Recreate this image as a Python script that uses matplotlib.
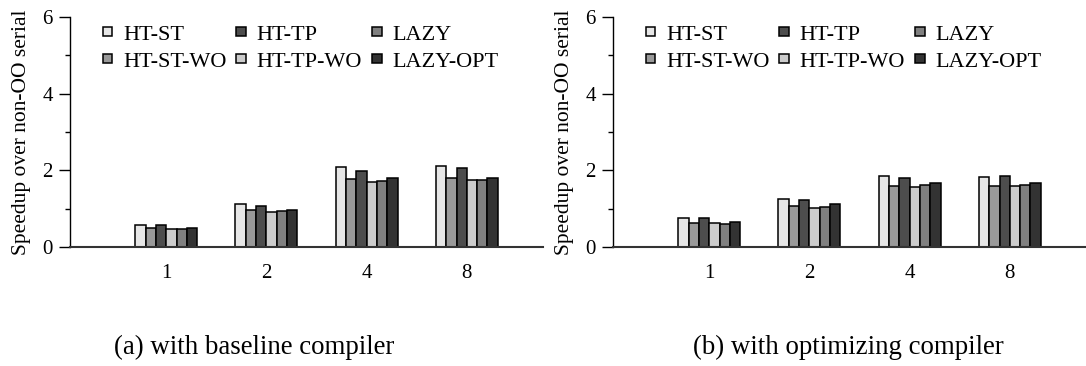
import numpy as np
import matplotlib
matplotlib.use('Agg')
import matplotlib.pyplot as plt
from matplotlib.ticker import MultipleLocator

plt.rcParams['font.family'] = ['Liberation Serif', 'DejaVu Serif']

threads = ['1', '2', '4', '8']
series = ['HT-ST', 'HT-ST-WO', 'HT-TP', 'HT-TP-WO', 'LAZY', 'LAZY-OPT']
colors = ['#e6e6e6', '#999999', '#4d4d4d', '#cccccc', '#808080', '#333333']

# speedup with baseline compiler, one list per series (threads 1,2,4,8)
base_ht_st = [0.58, 1.13, 2.09, 2.10]
base_ht_st_wo = [0.50, 0.96, 1.78, 1.80]
base_ht_tp = [0.57, 1.07, 1.98, 2.05]
base_ht_tp_wo = [0.47, 0.91, 1.70, 1.75]
base_lazy = [0.47, 0.93, 1.73, 1.75]
base_lazy_opt = [0.50, 0.96, 1.81, 1.81]

# speedup with optimizing compiler
opt_ht_st = [0.76, 1.26, 1.84, 1.83]
opt_ht_st_wo = [0.63, 1.07, 1.60, 1.58]
opt_ht_tp = [0.77, 1.22, 1.80, 1.84]
opt_ht_tp_wo = [0.63, 1.03, 1.56, 1.58]
opt_lazy = [0.61, 1.04, 1.63, 1.63]
opt_lazy_opt = [0.66, 1.11, 1.68, 1.67]

baseline = [base_ht_st, base_ht_st_wo, base_ht_tp, base_ht_tp_wo, base_lazy, base_lazy_opt]
optimizing = [opt_ht_st, opt_ht_st_wo, opt_ht_tp, opt_ht_tp_wo, opt_lazy, opt_lazy_opt]

fig = plt.figure(figsize=(10.86, 3.66), dpi=100)
ax1 = fig.add_axes([0.0645, 0.325, 0.4355, 0.629])
ax2 = fig.add_axes([0.5645, 0.325, 0.4355, 0.629])

x = np.arange(1, len(threads) + 1)
w = 0.103


def draw(ax, data):
    for i, (name, vals) in enumerate(zip(series, data)):
        ax.bar(x + (i - 2.5) * w, vals, w, color=colors[i], edgecolor='black',
               linewidth=1.1, label=name, zorder=2)
    ax.set_xlim(0.04, 4.76)
    ax.set_ylim(0, 6)
    ax.set_xticks(x)
    ax.set_xticklabels(threads, fontsize=15)
    ax.tick_params(axis='x', length=0, pad=12)
    ax.yaxis.set_major_locator(MultipleLocator(2))
    ax.yaxis.set_minor_locator(MultipleLocator(1))
    ax.tick_params(axis='y', which='major', labelsize=15, length=8, width=1, pad=4.5)
    ax.tick_params(axis='y', which='minor', length=3.5, width=1)
    ax.spines['top'].set_visible(False)
    ax.spines['right'].set_visible(False)
    ax.spines['bottom'].set_linewidth(1.5)
    ax.spines['bottom'].set_color('#333333')
    ax.spines['left'].set_linewidth(1)
    ax.set_ylabel('Speedup over non-OO serial', fontsize=15.5)
    ax.yaxis.set_label_coords(-0.083, 0.5)
    # handleheight chosen so the patch comes out square
    ax.legend(ncol=3, loc='upper left', bbox_to_anchor=(0.05, 1.0), frameon=False,
              fontsize=16, handlelength=0.42, handleheight=0.27, handletextpad=0.5,
              columnspacing=0.45, labelspacing=0.35, borderaxespad=0)


draw(ax1, baseline)
draw(ax2, optimizing)

fig.text(0.234, 0.05, '(a) with baseline compiler', ha='center', va='center', fontsize=19.4)
fig.text(0.781, 0.05, '(b) with optimizing compiler', ha='center', va='center', fontsize=19.4)

fig.savefig('out.png', dpi=100)
